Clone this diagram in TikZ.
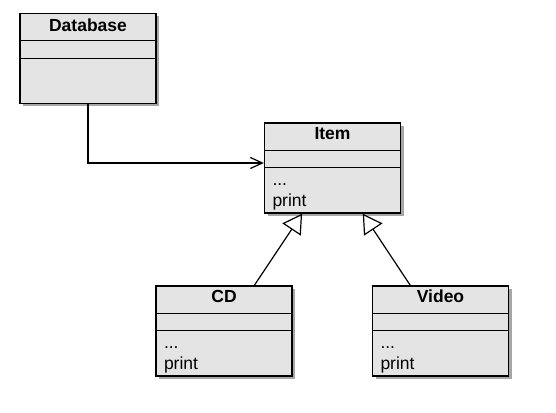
\documentclass[tikz,border=0pt]{standalone}
\usepackage{fontspec}
\setmainfont{Liberation Sans}
\usetikzlibrary{arrows.meta,shadows}
\definecolor{boxgray}{HTML}{E4E4E4}
\begin{document}
\begin{tikzpicture}[x=1pt,y=1pt,
  umlbox/.style={draw=black, line width=1.4pt, fill=boxgray,
    drop shadow={shadow xshift=3pt, shadow yshift=-3pt, fill=black, opacity=0.35},
    minimum width=136pt, minimum height=90pt, inner sep=0pt},
  divider/.style={line width=1.3pt},
  titletext/.style={font=\fontsize{17.5}{21}\selectfont\bfseries, anchor=base, inner sep=0pt},
  optext/.style={font=\fontsize{17.5}{21}\selectfont, anchor=base west, inner sep=0pt},
  assoc/.style={line width=1.2pt, -{Straight Barb[length=12pt, width=11pt, line width=1.2pt]}},
  inherit/.style={line width=1.2pt, -{Triangle[open, length=19pt, width=22pt, line width=1.2pt]}}
]
\useasboundingbox (0,0) rectangle (556,412);

% Database
\node[umlbox] (db) at (88,353.5) {};
\draw[divider] ([yshift=-28pt]db.north west) -- ([yshift=-28pt]db.north east);
\draw[divider] ([yshift=-45.5pt]db.north west) -- ([yshift=-45.5pt]db.north east);
\node[titletext] (dbname) at ([yshift=-18.5pt]db.north) {Database};

% Item
\node[umlbox] (item) at (332.5,244) {};
\draw[divider] ([yshift=-28pt]item.north west) -- ([yshift=-28pt]item.north east);
\draw[divider] ([yshift=-45.5pt]item.north west) -- ([yshift=-45.5pt]item.north east);
\node[titletext] (itemname) at ([yshift=-17.5pt]item.north) {Item};
\node[optext] (itemdots) at ([xshift=8.5pt,yshift=-63.5pt]item.north west) {...};
\node[optext] (itemprint) at ([xshift=8.5pt,yshift=-84pt]item.north west) {print};

% CD
\node[umlbox] (cd) at (224,81) {};
\draw[divider] ([yshift=-28pt]cd.north west) -- ([yshift=-28pt]cd.north east);
\draw[divider] ([yshift=-45.5pt]cd.north west) -- ([yshift=-45.5pt]cd.north east);
\node[titletext] (cdname) at ([yshift=-17.5pt]cd.north) {CD};
\node[optext] (cddots) at ([xshift=8.5pt,yshift=-63.5pt]cd.north west) {...};
\node[optext] (cdprint) at ([xshift=8.5pt,yshift=-84pt]cd.north west) {print};

% Video
\node[umlbox] (video) at (440.5,81) {};
\draw[divider] ([yshift=-28pt]video.north west) -- ([yshift=-28pt]video.north east);
\draw[divider] ([yshift=-45.5pt]video.north west) -- ([yshift=-45.5pt]video.north east);
\node[titletext] (videoname) at ([yshift=-17.5pt]video.north) {Video};
\node[optext] (videodots) at ([xshift=8.5pt,yshift=-63.5pt]video.north west) {...};
\node[optext] (videoprint) at ([xshift=8.5pt,yshift=-84pt]video.north west) {print};

% connectors
\draw[assoc] (db.south) |- ([yshift=5pt]item.west);
\draw[inherit] (cd) -- (item);
\draw[inherit] (video) -- (item);
\end{tikzpicture}
\end{document}
